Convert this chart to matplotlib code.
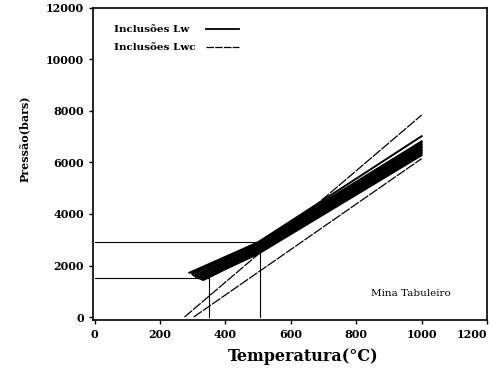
import numpy as np
import matplotlib.pyplot as plt

# isochores of Lw inclusions (T in C, P in bars)
lw_T = [[290, 500, 1000], [300, 500, 1000], [305, 500, 1000], [310, 500, 1000],
        [315, 500, 1000], [320, 500, 1000], [325, 500, 1000], [330, 500, 1000],
        [335, 500, 1000], [300, 500, 1000], [330, 500, 1000]]
lw_P = [[1720, 2900, 6820], [1650, 2870, 6760], [1600, 2820, 6700], [1560, 2760, 6640],
        [1520, 2700, 6580], [1500, 2650, 6520], [1480, 2600, 6460], [1460, 2550, 6400],
        [1450, 2500, 6350], [1700, 2900, 7020], [1450, 2450, 6280]]

# isochores of Lwc inclusions
lwc_T = [[275, 1000], [303, 1000], [295, 500, 1000], [310, 500, 1000], [320, 500, 1000]]
lwc_P = [[0, 7840], [0, 6150], [1680, 2860, 6720], [1580, 2780, 6600], [1540, 2680, 6500]]

# pressure / temperature bounds
guide_T = [[0, 505, 505], [0, 350, 350]]
guide_P = [[2900, 2900, 0], [1500, 1500, 0]]

x_ticks = [0, 200, 400, 600, 800, 1000, 1200]
y_ticks = [0, 2000, 4000, 6000, 8000, 10000, 12000]

plt.rcParams['font.family'] = 'DejaVu Serif'
plt.rcParams['font.weight'] = 'bold'

fig = plt.figure(figsize=(4.94, 3.74), dpi=100)
ax = fig.add_axes([0.188, 0.144, 0.798, 0.835])

for t, p in zip(lw_T, lw_P):
    ax.plot(t, p, 'k-', lw=1.4)
for t, p in zip(lwc_T, lwc_P):
    ax.plot(t, p, 'k', lw=0.9, ls=(0, (8, 1)))
for t, p in zip(guide_T, guide_P):
    ax.plot(t, p, 'k-', lw=0.8)

# legend, one box per entry so texts are left aligned
leg_font = {'family': 'DejaVu Serif', 'weight': 'bold', 'size': 7.5}
h1, = ax.plot([], [], 'k-', lw=1.3)
h2, = ax.plot([], [], 'k', lw=0.9, ls=(0, (6, 1)))
leg1 = ax.legend([h1], ['Inclusões Lw'], loc='upper left', bbox_to_anchor=(0.03, 0.975),
                 frameon=False, markerfirst=False, handlelength=3.2,
                 handletextpad=1.6, prop=leg_font)
ax.add_artist(leg1)
ax.legend([h2], ['Inclusões Lwc'], loc='upper left', bbox_to_anchor=(0.03, 0.917),
          frameon=False, markerfirst=False, handlelength=3.2,
          handletextpad=1.0, prop=leg_font)

ax.text(966, 900, 'Mina Tabuleiro', ha='center', va='center',
        fontsize=7.5, fontweight='normal')

ax.set_xlim(-5, 1200)
ax.set_ylim(-120, 12000)
ax.set_xticks(x_ticks)
ax.set_yticks(y_ticks)
ax.tick_params(labelsize=8, length=3, width=1)
ax.get_xticklabels()[-1].set_horizontalalignment('right')
for s in ax.spines.values():
    s.set_linewidth(1.2)
ax.set_xlabel('Temperatura(°C)', fontsize=11.5, fontweight='bold')
ax.set_ylabel('Pressão(bars)', fontsize=8, fontweight='bold')
ax.xaxis.set_label_coords(0.533, -0.09)
ax.yaxis.set_label_coords(-0.16, 0.58)

plt.savefig('out.png', dpi=100)
